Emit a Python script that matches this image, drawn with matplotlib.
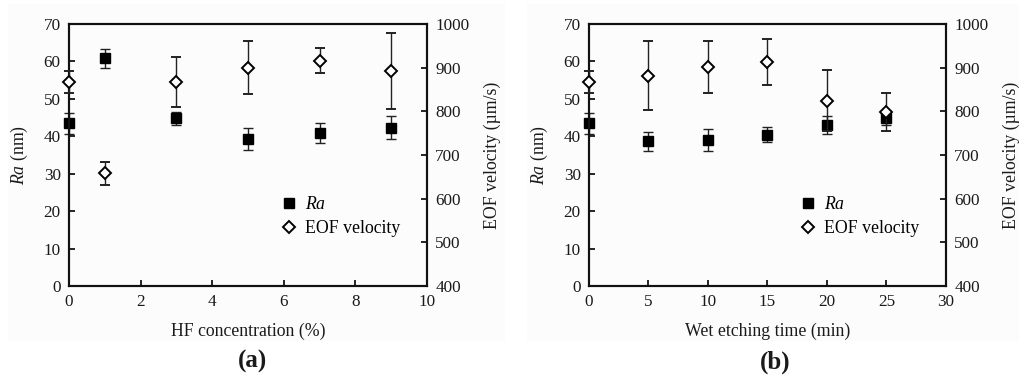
import matplotlib
matplotlib.use("Agg")
import matplotlib.pyplot as plt
from matplotlib.lines import Line2D
from matplotlib.patches import Rectangle

plt.rcParams['font.family'] = ['Liberation Serif', 'DejaVu Serif']
plt.rcParams['mathtext.fontset'] = 'custom'
plt.rcParams['mathtext.it'] = 'Liberation Serif:italic'

# Panel (a): HF concentration
hf_conc = [0, 1, 3, 5, 7, 9]
hf_ra = [43.5, 60.8, 44.8, 39.2, 40.8, 42.3]
hf_ra_err = [2.8, 2.6, 1.8, 2.9, 2.7, 3.0]
hf_eof = [867, 658, 867, 900, 916, 893]
hf_eof_err = [26, 27, 57, 60, 29, 87]

# Panel (b): wet etching time
wet_time = [0, 5, 10, 15, 20, 25]
wet_ra = [43.5, 38.7, 39.0, 40.4, 43.0, 44.8]
wet_ra_err = [2.8, 2.5, 2.9, 2.0, 2.4, 1.8]
wet_eof = [867, 882, 902, 913, 824, 798]
wet_eof_err = [26, 78, 60, 52, 70, 44]

ra_ticks = [0, 10, 20, 30, 40, 50, 60, 70]
eof_ticks = [400, 500, 600, 700, 800, 900, 1000]

fig = plt.figure(figsize=(10.24, 3.85), dpi=100, facecolor='white')
fig.patches.append(Rectangle((0.008, 0.115), 0.485, 0.875, transform=fig.transFigure,
                             facecolor='#fcfcfc', edgecolor='none', zorder=-10))
fig.patches.append(Rectangle((0.515, 0.115), 0.48, 0.875, transform=fig.transFigure,
                             facecolor='#fcfcfc', edgecolor='none', zorder=-10))

FS = 12.3
txt = '#1a1a1a'

def panel(rect, x, ra, ra_err, eof, eof_err, xlim, xticks, xlabel, tag, tagx):
    ax = fig.add_axes(rect)
    ax.set_facecolor('none')
    ax2 = ax.twinx()
    c1 = ax.errorbar(x, ra, yerr=ra_err, fmt='s', color='black', ms=7.5,
                     ecolor='#222222', elinewidth=1.0, capsize=3.8, capthick=1.0, zorder=3)
    c2 = ax2.errorbar(x, eof, yerr=eof_err, fmt='D', mfc='white', mec='black', mew=1.4,
                      ms=6.5, ecolor='#222222', elinewidth=1.0, capsize=3.8, capthick=1.0, zorder=3)
    for c in (c1, c2):
        for art in c.lines:
            if isinstance(art, tuple):
                for a in art:
                    a.set_clip_on(False)
            elif art is not None:
                art.set_clip_on(False)
        for coll in c[2]:
            coll.set_clip_on(False)
    ax.set_xlim(*xlim)
    ax.set_ylim(0, 70)
    ax2.set_ylim(400, 1000)
    ax.set_xticks(xticks)
    ax.set_yticks(ra_ticks)
    ax2.set_yticks(eof_ticks)
    for a in (ax, ax2):
        a.tick_params(direction='in', length=4, width=1.2, labelsize=FS, colors='black',
                      labelcolor=txt, pad=6)
        for s in a.spines.values():
            s.set_linewidth(1.5)
            s.set_color('#111111')
    ax.tick_params(top=False)
    ax.set_xlabel(xlabel, fontsize=FS + 0.5, color=txt, labelpad=9)
    ax.set_ylabel(r'$\mathit{Ra}$ (nm)', fontsize=FS + 0.5, color=txt, labelpad=10)
    ax2.set_ylabel('EOF velocity (\u00b5m/s)', fontsize=FS + 0.5, color=txt, labelpad=10)
    handles = [Line2D([], [], marker='s', ls='none', color='black', ms=7.5),
               Line2D([], [], marker='D', ls='none', mfc='white', mec='black', mew=1.4, ms=6.5)]
    ax2.legend(handles, [r'$\mathit{Ra}$', 'EOF velocity'], loc='upper left',
               bbox_to_anchor=(0.565, 0.37), frameon=False, fontsize=FS + 0.5,
               handletextpad=0.3, labelspacing=0.4, handlelength=1.2, borderaxespad=0)
    fig.text(tagx, 0.06, tag, fontsize=18, ha='center', va='center', color=txt,
             fontweight='bold')
    return ax, ax2

panel([0.0674, 0.2571, 0.3496, 0.6806], hf_conc, hf_ra, hf_ra_err, hf_eof, hf_eof_err,
      (0, 10), [0, 2, 4, 6, 8, 10], 'HF concentration (%)', '(a)', 0.247)
panel([0.5752, 0.2571, 0.3486, 0.6806], wet_time, wet_ra, wet_ra_err, wet_eof, wet_eof_err,
      (0, 30), [0, 5, 10, 15, 20, 25, 30], 'Wet etching time (min)', '(b)', 0.757)

fig.savefig('out.png', dpi=100, facecolor='white')
